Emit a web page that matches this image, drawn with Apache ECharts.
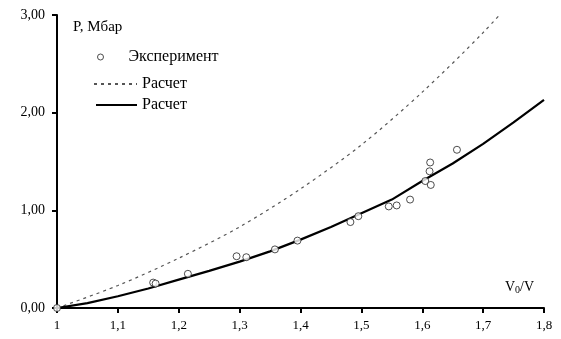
<!DOCTYPE html>
<html>
<head>
<meta charset="utf-8">
<script src="https://cdn.jsdelivr.net/npm/echarts@6/dist/echarts.min.js"></script>
<style>
  html, body { margin: 0; padding: 0; background: #fff; }
  #chart { width: 561px; height: 339px; }
</style>
</head>
<body>
<div id="chart"></div>
<script>
// Experimental points: compression ratio V0/V and pressure P (Mbar)
const expRatio = [1.000, 1.158, 1.162, 1.215, 1.295, 1.311, 1.358, 1.395, 1.482, 1.495,
                  1.545, 1.558, 1.580, 1.605, 1.614, 1.612, 1.613, 1.657];
const expPressure = [0.00, 0.26, 0.25, 0.35, 0.53, 0.52, 0.60, 0.69, 0.88, 0.94,
                     1.04, 1.05, 1.11, 1.30, 1.26, 1.40, 1.49, 1.62];

// Calculated curve (dashed)
const calcDashedRatio = [1.0, 1.1, 1.2, 1.3, 1.4, 1.5, 1.6, 1.7, 1.8];
const calcDashedPressure = [0.00, 0.23, 0.51, 0.83, 1.22, 1.67, 2.21, 2.82, 3.50];

// Calculated curve (solid)
const calcSolidRatio = [1.00, 1.05, 1.10, 1.15, 1.20, 1.25, 1.30, 1.35, 1.40,
                        1.45, 1.50, 1.55, 1.60, 1.65, 1.70, 1.75, 1.80];
const calcSolidPressure = [0.00, 0.05, 0.12, 0.20, 0.29, 0.38, 0.475, 0.58, 0.70,
                           0.83, 0.97, 1.11, 1.30, 1.48, 1.68, 1.90, 2.13];

const seriesNames = ['Эксперимент', 'Расчет (1)', 'Расчет (2)'];

const zip = (xs, ys) => xs.map((x, i) => [x, ys[i]]);
const serif = 'Liberation Serif, Times New Roman, serif';
const stripSuffix = name => name.replace(/ \(\d\)$/, '');

const legendBase = {
  orient: 'vertical',
  padding: 0,
  selectedMode: false,
  formatter: stripSuffix,
  textStyle: { fontFamily: serif, fontSize: 16, color: '#000' }
};
// line legends: show only the stroke, no marker dot
const lineLegendItem = { color: 'transparent', borderWidth: 0 };

const chart = echarts.init(document.getElementById('chart'), null, { renderer: 'canvas' });

chart.setOption({
  animation: false,
  backgroundColor: '#fff',
  grid: { left: 57, right: 17, top: 15, bottom: 31, containLabel: false },
  legend: [
    Object.assign({}, legendBase, {
      data: [seriesNames[0]], left: 97, top: 49, itemWidth: 46, itemHeight: 6,
      itemStyle: { borderWidth: 1 }
    }),
    Object.assign({}, legendBase, {
      data: [seriesNames[1]], left: 93, top: 76, itemWidth: 43, itemHeight: 8,
      itemStyle: lineLegendItem
    }),
    Object.assign({}, legendBase, {
      data: [seriesNames[2]], left: 95, top: 97, itemWidth: 41, itemHeight: 8,
      itemStyle: lineLegendItem
    })
  ],
  xAxis: {
    type: 'value',
    min: 1,
    max: 1.8,
    interval: 0.1,
    splitLine: { show: false },
    axisLine: { show: true, onZero: false, lineStyle: { color: '#000', width: 2 } },
    axisTick: { show: true, length: 5, lineStyle: { color: '#000', width: 2 } },
    axisLabel: {
      margin: 11,
      fontFamily: serif,
      fontSize: 13,
      color: '#000',
      formatter: v => String(parseFloat(v.toFixed(1))).replace('.', ',')
    },
    name: '{v|V}{s|0}{v|/V}',
    nameLocation: 'end',
    nameGap: -39,
    nameTextStyle: {
      align: 'left',
      verticalAlign: 'bottom',
      padding: [0, 0, 13, 0],
      rich: {
        v: { fontFamily: serif, fontSize: 14, color: '#000' },
        s: { fontFamily: serif, fontSize: 10, color: '#000', verticalAlign: 'bottom', padding: [6, 0, 0, 0] }
      }
    }
  },
  yAxis: {
    type: 'value',
    min: 0,
    max: 3,
    interval: 1,
    splitLine: { show: false },
    axisLine: { show: true, onZero: false, lineStyle: { color: '#000', width: 2 } },
    axisTick: { show: true, length: 5, lineStyle: { color: '#000', width: 2 } },
    axisLabel: {
      margin: 12,
      fontFamily: serif,
      fontSize: 14,
      color: '#000',
      formatter: v => v.toFixed(2).replace('.', ',')
    },
    name: 'P, Мбар',
    nameLocation: 'end',
    nameGap: -12,
    nameTextStyle: {
      align: 'left',
      verticalAlign: 'middle',
      padding: [0, 0, 0, 16],
      fontFamily: serif,
      fontSize: 15,
      color: '#000'
    }
  },
  series: [
    {
      name: seriesNames[1],
      type: 'line',
      symbol: 'none',
      smooth: 0.3,
      clip: true,
      data: zip(calcDashedRatio, calcDashedPressure),
      lineStyle: { color: '#555', width: 1.2, type: [3, 4] },
      itemStyle: { color: '#555' },
      z: 2
    },
    {
      name: seriesNames[2],
      type: 'line',
      symbol: 'none',
      smooth: false,
      clip: true,
      data: zip(calcSolidRatio, calcSolidPressure),
      lineStyle: { color: '#000', width: 2.2 },
      itemStyle: { color: '#000' },
      z: 3
    },
    {
      name: seriesNames[0],
      type: 'scatter',
      symbol: 'circle',
      symbolSize: 7,
      clip: false,
      data: zip(expRatio, expPressure),
      itemStyle: { color: '#fff', borderColor: '#222', borderWidth: 1 },
      z: 4
    }
  ]
});
</script>
</body>
</html>
